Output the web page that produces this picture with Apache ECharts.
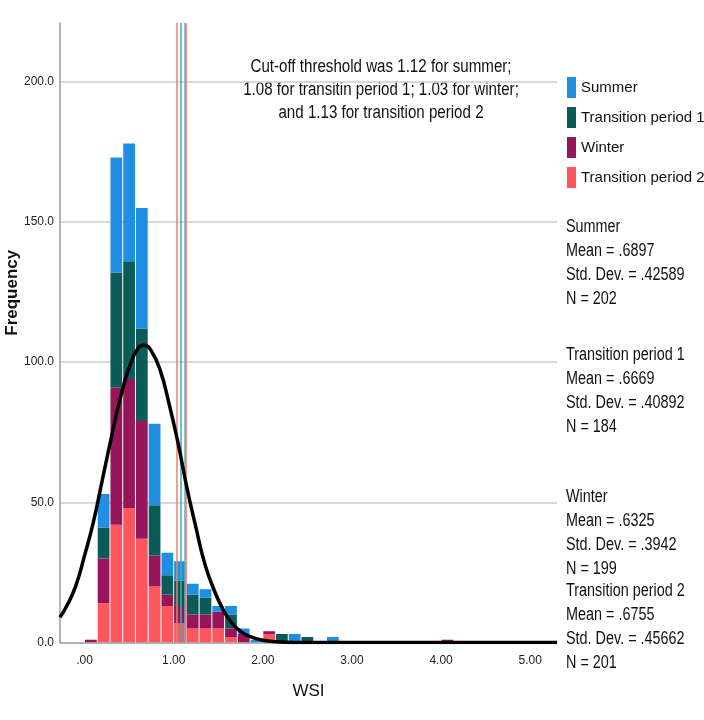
<!DOCTYPE html>
<html><head><meta charset="utf-8">
<script src="https://cdn.jsdelivr.net/npm/echarts@6/dist/echarts.min.js"></script>
<style>html,body{margin:0;padding:0;background:#fff}#c{width:704px;height:720px}</style>
</head><body><div id="c"></div>
<script>
// ---- data ----
const binCenters = [0.071,0.214,0.357,0.500,0.643,0.786,0.929,1.071,1.214,1.357,1.500,1.643,1.786,1.929,2.071,2.214,2.357,2.500,2.643,2.786,2.929,3.071,3.214,3.357,3.500,3.643,3.786,3.929,4.071];
const binWidth = 0.1429;
const tp2Counts    = [0,14,42,48,37,20,13,7,5,5,5,2,0,0,3,0,0,0,0,0,0,0,0,0,0,0,0,0,0];
const winterCounts = [1,16,49,46,42,11,4,6,5,5,6,3,3,0,1,0,0,0,0,0,0,0,0,0,0,0,0,0,1];
const tp1Counts    = [0,11,41,42,33,18,7,9,7,6,0,5,0,0,0,3,0,2,0,0,0,0,0,0,0,0,0,0,0];
const summerCounts = [0,12,41,42,43,29,8,7,4,3,2,3,2,1,0,0,3,0,0,2,0,0,0,0,0,0,0,0,0];
const curveX = [-0.275,-0.2,-0.1,0,0.1,0.2,0.3,0.4,0.5,0.6,0.67,0.75,0.85,0.95,1.05,1.15,1.25,1.35,1.45,1.55,1.65,1.75,1.85,2.0,2.2,2.5,3.0,4.0,5.3];
const curveY = [9,13,20,31,43,58,73,87,98,105,106,104,97,85,71,55,41,28,19,12,7,4,2.2,0.8,0.2,0,0,0,0];
const seriesNames = ['Summer','Transition period 1','Winter','Transition period 2'];
const thresholdValues = [1.12, 1.08, 1.03, 1.13];
const xTickValues = [0,1,2,3,4,5];
const yTickValues = [0,50,100,150,200];
const annotationLines = ['Cut-off threshold was 1.12 for summer;','1.08 for transitin period 1; 1.03 for winter;','and 1.13 for transition period 2'];
const statsBlocks = [
  ['Summer','Mean = .6897','Std. Dev. = .42589','N = 202'],
  ['Transition period 1','Mean = .6669','Std. Dev. = .40892','N = 184'],
  ['Winter','Mean = .6325','Std. Dev. = .3942','N = 199'],
  ['Transition period 2','Mean = .6755','Std. Dev. = .45662','N = 201']
];

// ---- styling ----
const FONT = "'Liberation Sans',Arial,sans-serif";
const colors = {'Summer':'#1E8FE3','Transition period 1':'#0B5C58','Winter':'#97155A','Transition period 2':'#FF565E'};
const thresholdColors = ['#5AB3D0','#45AAA6','#E8836F','#EE7A62'];
const statsTops = [215, 343, 485, 579];
const X_MIN = -0.275, X_MAX = 5.30;

// stacked histogram: bottom-to-top order as in the reference
const stackOrder = [['Transition period 2', tp2Counts], ['Winter', winterCounts], ['Transition period 1', tp1Counts], ['Summer', summerCounts]];
let base = binCenters.map(() => 0);
const barSeries = stackOrder.map(([name, counts]) => {
  const data = binCenters.map((c, i) => [c, base[i], base[i] + counts[i]]);
  base = base.map((b, i) => b + counts[i]);
  return {
    name, type:'custom', clip:true,
    encode:{x:0, y:[1,2]},
    itemStyle:{color:colors[name]},
    data,
    renderItem:(params, api) => {
      const c = api.value(0), y0 = api.value(1), y1 = api.value(2);
      if (y1 <= y0) return null;
      const p0 = api.coord([c - binWidth/2, y0]);
      const p1 = api.coord([c + binWidth/2, y1]);
      return {type:'rect', shape:{x:p0[0] + 0.5, y:p1[1], width:p1[0] - p0[0] - 1, height:p0[1] - p1[1]},
        style:{fill:api.visual('color')}};
    }
  };
});

const chart = echarts.init(document.getElementById('c'), null, {renderer:'canvas'});
chart.setOption({
  animation:false,
  backgroundColor:'#fff',
  grid:{left:60, right:147, top:23, bottom:77.5, containLabel:false, outerBoundsMode:'none'},
  legend:{
    data:seriesNames, orient:'vertical', left:562, top:72, icon:'rect',
    itemWidth:9, itemHeight:21, itemGap:9, selectedMode:false,
    textStyle:{fontFamily:FONT, fontSize:15, color:'#111'}
  },
  xAxis:{
    type:'value', min:X_MIN, max:X_MAX,
    axisLine:{show:true, onZero:false, lineStyle:{color:'#9a9a9a', width:1.5}},
    axisTick:{show:false}, splitLine:{show:false},
    axisLabel:{customValues:xTickValues, formatter:v => v===0 ? '.00' : v.toFixed(2),
      fontFamily:FONT, fontSize:12, color:'#222', margin:12},
    name:'WSI', nameLocation:'middle', nameGap:40,
    nameTextStyle:{fontFamily:FONT, fontSize:17, color:'#111'}
  },
  yAxis:{
    type:'value', min:0, max:221, interval:50,
    axisLine:{show:true, onZero:false, lineStyle:{color:'#9a9a9a', width:1.5}},
    axisTick:{show:false},
    axisLabel:{customValues:yTickValues, formatter:v => v.toFixed(1),
      fontFamily:FONT, fontSize:12, color:'#222', margin:6},
    splitLine:{show:true, showMinLine:false, showMaxLine:false, lineStyle:{color:'#cccccc', width:1.5}},
    name:'Frequency', nameLocation:'middle', nameGap:39, nameRotate:90, nameMoveOverlap:false,
    nameTextStyle:{fontFamily:FONT, fontWeight:'bold', fontSize:17, color:'#111', padding:[0,0,0,80]}
  },
  series:barSeries.concat([{
    name:'Normal', type:'line', z:5, smooth:0.5, symbol:'none',
    data:curveX.map((x,i)=>[x, curveY[i]]),
    lineStyle:{color:'#000', width:3.5},
    markLine:{silent:true, symbol:['none','none'], label:{show:false},
      data:thresholdValues.map((v,i)=>({xAxis:v, lineStyle:{color:thresholdColors[i], width:1.5, type:'solid'}}))}
  }]),
  graphic:[
    {type:'text', x:381, y:56, scaleX:0.84,
     style:{text:annotationLines.join('\n'), font:`18px ${FONT}`, align:'center', verticalAlign:'top', lineHeight:23, fill:'#111'}}
  ].concat(statsBlocks.map((lines,i)=>({
    type:'text', x:566, y:statsTops[i], scaleX:0.8,
    style:{text:lines.join('\n'), font:`18px ${FONT}`, align:'left', verticalAlign:'top', lineHeight:24, fill:'#111'}
  })))
});
</script></body></html>
